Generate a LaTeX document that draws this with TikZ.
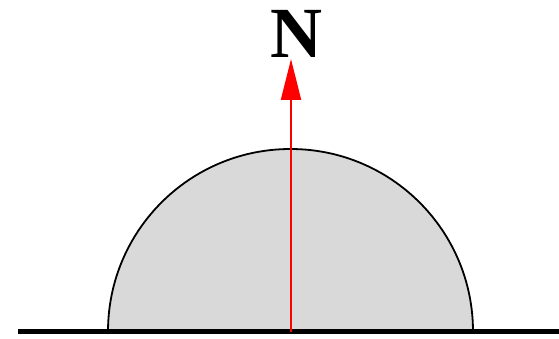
\documentclass[tikz,border=0pt]{standalone}
\usepackage{fontspec}
\setmainfont{Liberation Serif}
\usetikzlibrary{arrows.meta}
\begin{document}
\begin{tikzpicture}[x=1pt,y=1pt,
  dome/.style={draw=black,fill=black!15,line width=1.8pt},
  ground/.style={draw=black,line width=4.5pt},
  northarrow/.style={draw=red,line width=2pt,-{Triangle[length=41pt,width=20pt]}},
  label/.style={font=\fontsize{72}{72}\selectfont\bfseries,inner sep=0pt,anchor=base}]
\useasboundingbox (0,0) rectangle (559,338);
\coordinate (center) at (290.5,6.5);
\coordinate (tip) at (291,279);
\fill[black!15] (center) ++(-182.5,0) arc[start angle=180,end angle=0,radius=182.5] -- cycle;
\draw[dome,fill=none] (center) ++(-182.5,0) arc[start angle=180,end angle=0,radius=182.5];
\draw[ground] (18,6.5) -- (559,6.5);
\draw[northarrow] (291,6.5) -- (tip);
\node[label] (N) at (296,280.5) {N};
\end{tikzpicture}
\end{document}
